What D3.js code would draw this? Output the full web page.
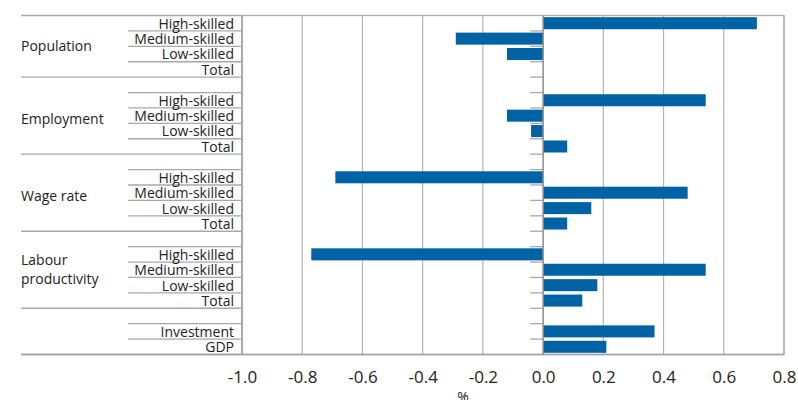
<!DOCTYPE html>
<html>
<head>
<meta charset="utf-8">
<script src="https://cdn.jsdelivr.net/npm/d3@7"></script>
<style>
  html, body { margin: 0; padding: 0; background: #fff; }
  svg { display: block; }
  text { font-family: "Open Sans", sans-serif; fill: #222; }
</style>
</head>
<body>
<svg id="chart" width="798" height="400"></svg>
<script>
// ---- data ----
const groupNames = ["Population", "Employment", "Wage rate", "Labour productivity", ""];
const skillLabels = ["High-skilled", "Medium-skilled", "Low-skilled", "Total"];
const otherLabels = ["Investment", "GDP"];
const population = [0.71, -0.29, -0.12, 0.0];
const employment = [0.54, -0.12, -0.04, 0.08];
const wageRate = [-0.69, 0.48, 0.16, 0.08];
const labourProductivity = [-0.77, 0.54, 0.18, 0.13];
const otherValues = [0.37, 0.21];
const xTicks = [-1.0, -0.8, -0.6, -0.4, -0.2, 0.0, 0.2, 0.4, 0.6, 0.8];
const axisTitle = "%";

// ---- build rows ----
const groupSeries = [
  { name: groupNames[0], labels: skillLabels, values: population, blank: false },
  { name: groupNames[1], labels: skillLabels, values: employment, blank: true },
  { name: groupNames[2], labels: skillLabels, values: wageRate, blank: true },
  { name: groupNames[3], labels: skillLabels, values: labourProductivity, blank: true },
  { name: groupNames[4], labels: otherLabels, values: otherValues, blank: true }
];
const rows = [];
const groupInfo = [];
groupSeries.forEach((g, gi) => {
  const start = rows.length;
  if (g.blank) rows.push({ key: "b" + gi, label: "", value: null, group: gi });
  g.labels.forEach((l, i) => rows.push({ key: gi + "-" + i, label: l, value: g.values[i], group: gi }));
  groupInfo.push({ name: g.name, start: start, end: rows.length, blank: g.blank });
});

// ---- layout ----
const svg = d3.select("#chart");
const plotLeft = 242, plotRight = 784, plotTop = 15.5, plotBottom = 354.5;
const tableLeft = 21, subLeft = 128;

const x = d3.scaleLinear().domain([-1.0, 0.8]).range([plotLeft, plotRight]);
const y = d3.scaleBand().domain(rows.map(r => r.key)).range([plotTop, plotBottom]).paddingInner(0.22).paddingOuter(0.11);
const step = y.step();
const boundary = i => plotTop + i * step;

// gridlines
svg.append("g").selectAll("line").data(xTicks.filter(t => t !== 0)).join("line")
  .attr("x1", d => x(d)).attr("x2", d => x(d))
  .attr("y1", plotTop).attr("y2", plotBottom)
  .attr("stroke", "#b4b4b4").attr("stroke-width", 1.2);

// bars
svg.append("g").selectAll("rect").data(rows.filter(r => r.value !== null)).join("rect")
  .attr("x", d => Math.min(x(0), x(d.value)))
  .attr("y", d => y(d.key))
  .attr("width", d => Math.abs(x(d.value) - x(0)))
  .attr("height", y.bandwidth())
  .attr("fill", "#0063a6");

// row separators in the table (short) and group separators (long)
const longB = new Set(groupInfo.map(g => g.start).concat([rows.length]));
const sepData = d3.range(0, rows.length + 1);
svg.append("g").selectAll("line").data(sepData).join("line")
  .attr("x1", d => longB.has(d) ? tableLeft : subLeft)
  .attr("x2", plotLeft)
  .attr("y1", d => boundary(d)).attr("y2", d => boundary(d))
  .attr("stroke", "#a8a8a8").attr("stroke-width", 1.3);

// tick marks on zero axis
svg.append("g").selectAll("line").data(sepData.slice(1, -1)).join("line")
  .attr("x1", x(0) - 13).attr("x2", x(0))
  .attr("y1", d => boundary(d)).attr("y2", d => boundary(d))
  .attr("stroke", "#a8a8a8").attr("stroke-width", 1.3);

// plot border
svg.append("rect").attr("x", plotLeft).attr("y", plotTop)
  .attr("width", plotRight - plotLeft).attr("height", plotBottom - plotTop)
  .attr("fill", "none").attr("stroke", "#b0b0b0").attr("stroke-width", 1.3);
svg.append("line").attr("x1", plotLeft).attr("x2", plotLeft).attr("y1", plotTop).attr("y2", plotBottom)
  .attr("stroke", "#a0a0a0").attr("stroke-width", 1.3);
svg.append("line").attr("x1", tableLeft).attr("x2", plotRight).attr("y1", plotBottom).attr("y2", plotBottom)
  .attr("stroke", "#a0a0a0").attr("stroke-width", 1.3);
// zero line
svg.append("line").attr("x1", x(0)).attr("x2", x(0)).attr("y1", plotTop).attr("y2", plotBottom)
  .attr("stroke", "#8c8c8c").attr("stroke-width", 1.5);

// row labels
svg.append("g").selectAll("text").data(rows.filter(r => r.label)).join("text")
  .attr("x", 234).attr("y", d => y(d.key) + y.bandwidth() / 2 + 0.5)
  .attr("dy", "0.35em").attr("text-anchor", "end")
  .style("font-size", "14px").text(d => d.label);

// group labels
groupInfo.filter(g => g.name).forEach(g => {
  const s = g.blank ? g.start + 0.5 : g.start;
  let cy = (boundary(s) + boundary(g.end)) / 2;
  const words = g.name === "Labour productivity" ? ["Labour", "productivity"] : [g.name];
  if (words.length > 1) cy -= 4;
  const lh = 19;
  words.forEach((w, i) => {
    svg.append("text").attr("x", tableLeft).attr("y", cy + (i - (words.length - 1) / 2) * lh)
      .attr("dy", "0.35em").style("font-size", "14px").text(w);
  });
});

// x axis
const fmt = d3.format(".1f");
const axis = d3.axisBottom(x).tickValues(xTicks).tickFormat(d => fmt(d).replace("\u2212", "-")).tickSize(0).tickPadding(0);
const ax = svg.append("g").attr("transform", `translate(0,${plotBottom})`).call(axis);
ax.select(".domain").remove();
ax.selectAll("text").attr("y", 23).attr("dy", "0.35em")
  .style("font-family", "'Open Sans', sans-serif").style("font-size", "17px").attr("fill", "#222");

// axis title
svg.append("text").attr("x", 463).attr("y", 402).attr("text-anchor", "middle")
  .style("font-size", "14px").text(axisTitle);
</script>
</body>
</html>
